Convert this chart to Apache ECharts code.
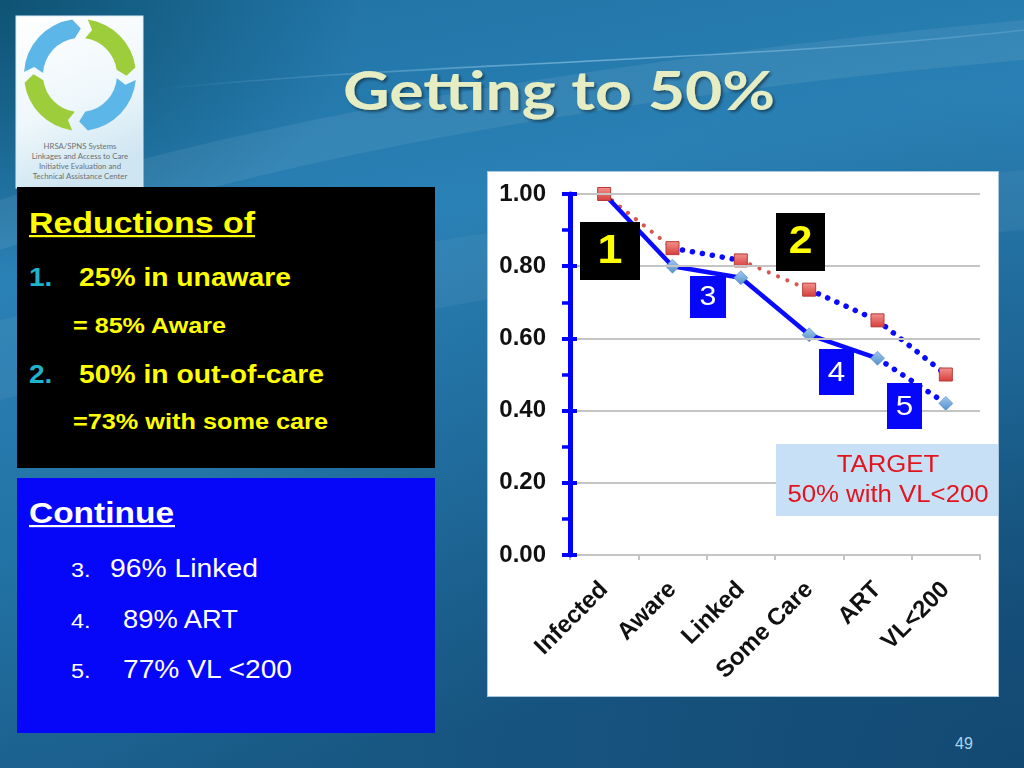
<!DOCTYPE html>
<html>
<head>
<meta charset="utf-8">
<script src="https://cdn.jsdelivr.net/npm/echarts@6/dist/echarts.min.js"></script>
<style>
html,body{margin:0;padding:0;width:1024px;height:768px;overflow:hidden;background:#1f6fa0}
#slide{position:absolute;left:0;top:0;width:1024px;height:768px}
#chart{position:absolute;left:0;top:0;width:1024px;height:768px}
</style>
</head>
<body>
<svg id="slide" width="1024" height="768" viewBox="0 0 1024 768" xmlns="http://www.w3.org/2000/svg">
  <defs>
    <linearGradient id="bg" x1="0" y1="0" x2="0.25" y2="1">
      <stop offset="0" stop-color="#1f71a3"/>
      <stop offset="0.35" stop-color="#2a81b5"/>
      <stop offset="0.7" stop-color="#2272a4"/>
      <stop offset="1" stop-color="#1a5d8a"/>
    </linearGradient>
    <radialGradient id="dark" cx="1" cy="1" r="0.9">
      <stop offset="0" stop-color="#0d3c62" stop-opacity="0.6"/>
      <stop offset="1" stop-color="#0d3c62" stop-opacity="0"/>
    </radialGradient>
    <radialGradient id="darkTL" cx="0" cy="0" r="0.35">
      <stop offset="0" stop-color="#08465f" stop-opacity="0.7"/>
      <stop offset="1" stop-color="#08465f" stop-opacity="0"/>
    </radialGradient>
    <linearGradient id="streak" x1="0" y1="0" x2="1" y2="0">
      <stop offset="0" stop-color="#bfe8ff" stop-opacity="0"/>
      <stop offset="0.5" stop-color="#bfe8ff" stop-opacity="0.45"/>
      <stop offset="1" stop-color="#bfe8ff" stop-opacity="0.15"/>
    </linearGradient>
    <linearGradient id="logoBg" x1="0" y1="0" x2="0.3" y2="1">
      <stop offset="0" stop-color="#ffffff"/>
      <stop offset="0.6" stop-color="#eef7fb"/>
      <stop offset="1" stop-color="#cfe6f2"/>
    </linearGradient>
    <filter id="shadow" x="-5%" y="-5%" width="110%" height="120%">
      <feDropShadow dx="2" dy="2" stdDeviation="1.5" flood-color="#000" flood-opacity="0.45"/>
    </filter>
  </defs>
  <rect x="0" y="0" width="1024" height="768" fill="url(#bg)"/>
  <rect x="0" y="0" width="1024" height="768" fill="url(#dark)"/>
  <rect x="0" y="0" width="1024" height="768" fill="url(#darkTL)"/>
  <!-- light streaks -->
  <path d="M0,200 C250,120 600,60 1024,20 L1024,60 C620,95 260,160 0,250 Z" fill="#ffffff" opacity="0.07"/>
  <path d="M150,90 C420,62 740,62 1024,30" stroke="url(#streak)" stroke-width="1.5" fill="none"/>
  <path d="M0,320 C300,260 650,200 1024,170 L1024,230 C650,260 300,330 0,400 Z" fill="#ffffff" opacity="0.05"/>

  <!-- logo -->
  <rect x="16" y="16" width="127" height="172" fill="url(#logoBg)" stroke="#d6ebf5" stroke-width="1"/>
  <g id="logoArrows"></g>
  <g font-family="Lato, 'Noto Sans', sans-serif" font-size="7.8" fill="#707070" text-anchor="middle">
    <text x="80" y="149">HRSA/SPNS Systems</text>
    <text x="80" y="159">Linkages and Access to Care</text>
    <text x="80" y="169">Initiative Evaluation and</text>
    <text x="80" y="179">Technical Assistance Center</text>
  </g>

  <!-- title -->
  <text x="343" y="110" font-family="Lato, 'Open Sans', sans-serif" font-weight="bold" font-size="54" fill="#e6edc2" textLength="432" lengthAdjust="spacingAndGlyphs" filter="url(#shadow)">Getting to 50%</text>

  <!-- black panel -->
  <rect x="17" y="187" width="418" height="281" fill="#000"/>
  <g font-family="'Liberation Sans', Arial, sans-serif" font-weight="bold">
    <text x="29" y="233" font-size="30" fill="#ffff00" textLength="226" lengthAdjust="spacingAndGlyphs">Reductions of</text>
    <rect x="29" y="235" width="226" height="2.2" fill="#ffff00"/>
    <text transform="translate(29,286) scale(1.12,1)" font-size="25" fill="#1fb4cc">1.</text>
    <text x="79" y="286" font-size="25" fill="#ffff00" textLength="212" lengthAdjust="spacingAndGlyphs">25% in unaware</text>
    <text x="73" y="333" font-size="22" fill="#ffff00" textLength="153" lengthAdjust="spacingAndGlyphs">= 85% Aware</text>
    <text transform="translate(29,383) scale(1.12,1)" font-size="25" fill="#1fb4cc">2.</text>
    <text x="79" y="383" font-size="25" fill="#ffff00" textLength="245" lengthAdjust="spacingAndGlyphs">50% in out-of-care</text>
    <text x="73" y="429" font-size="22" fill="#ffff00" textLength="255" lengthAdjust="spacingAndGlyphs">=73% with some care</text>
  </g>

  <!-- blue panel -->
  <rect x="17" y="478" width="418" height="255" fill="#0606f8"/>
  <g font-family="'Liberation Sans', Arial, sans-serif" fill="#ffffff">
    <text x="29" y="523" font-size="30" font-weight="bold" textLength="145" lengthAdjust="spacingAndGlyphs">Continue</text>
    <rect x="29" y="525" width="146" height="2.2" fill="#ffffff"/>
    <text transform="translate(71,577) scale(1.12,1)" font-size="21">3.</text>
    <text x="110" y="577" font-size="26" textLength="148" lengthAdjust="spacingAndGlyphs">96% Linked</text>
    <text transform="translate(71,628) scale(1.12,1)" font-size="21">4.</text>
    <text x="123" y="628" font-size="26" textLength="115" lengthAdjust="spacingAndGlyphs">89% ART</text>
    <text transform="translate(71,678) scale(1.12,1)" font-size="21">5.</text>
    <text x="123" y="678" font-size="26" textLength="169" lengthAdjust="spacingAndGlyphs">77% VL &lt;200</text>
  </g>

  <!-- chart panel -->
  <rect x="487.5" y="171.5" width="511" height="525" fill="#ffffff" stroke="#a9c6da" stroke-width="1"/>

  <!-- page number -->
  <text x="964" y="749" font-family="'Liberation Sans', Arial, sans-serif" font-size="16" fill="#a9d4ee" text-anchor="middle">49</text>
</svg>
<div id="chart"></div>
<script>
// ---------- data ----------
const categories = ['Infected', 'Aware', 'Linked', 'Some Care', 'ART', 'VL<200'];
const targetValues = [1.00, 0.85, 0.816, 0.735, 0.65, 0.50];
const currentValues = [1.00, 0.80, 0.768, 0.61, 0.545, 0.42];
// style of the segment that leaves each point (segment i joins point i and i+1)
const targetSegmentStyles = ['red', 'blue', 'red', 'blue', 'blue'];
const currentSegmentStyles = ['solid', 'solid', 'solid', 'solid', 'blue'];
const calloutLabels = ['1', '2', '3', '4', '5'];
const targetNoteLines = ['TARGET', '50% with VL<200'];

// ---------- logo arrows (decoration) ----------
(function () {
  const g = document.getElementById('logoArrows');
  const cx = 80, cy = 75, rO = 56, rI = 37, rM = (rO + rI) / 2;
  const P = (r, a) => { const t = a * Math.PI / 180; return (cx + r * Math.cos(t)).toFixed(2) + ',' + (cy + r * Math.sin(t)).toFixed(2); };
  const arrows = [[183, 262, '#5db6e8'], [278, 352, '#9dcd3b'], [5, 82, '#5db6e8'], [98, 172, '#9dcd3b']];
  arrows.forEach(([a0, a1, col]) => {
    const d = 'M' + P(rO, a0) + ' A' + rO + ',' + rO + ' 0 0 1 ' + P(rO, a1) +
      ' L' + P(rM, a1 + 9) + ' L' + P(rI, a1) +
      ' A' + rI + ',' + rI + ' 0 0 0 ' + P(rI, a0) +
      ' L' + P(rM, a0 + 7) + ' Z';
    const p = document.createElementNS('http://www.w3.org/2000/svg', 'path');
    p.setAttribute('d', d); p.setAttribute('fill', col);
    g.appendChild(p);
  });
})();

// ---------- chart ----------
const LINE = {
  solid: { color: '#0a0aff', width: 4.5, type: 'solid' },
  blue: { color: '#0a0aff', width: 5.5, type: [0.1, 10], cap: 'round' },
  red: { color: '#d9544f', width: 4, type: [0.1, 10], cap: 'round' }
};
function segmentSeries(values, styles, z) {
  return styles.map((s, i) => ({
    type: 'line',
    data: values.map((v, j) => (j === i || j === i + 1) ? v : null),
    showSymbol: false, symbol: 'none', connectNulls: false,
    lineStyle: LINE[s], z: z, silent: true
  }));
}
const series = [].concat(
  segmentSeries(targetValues, targetSegmentStyles, 2),
  segmentSeries(currentValues, currentSegmentStyles, 3),
  [{
    type: 'scatter', data: currentValues, symbol: 'diamond', symbolSize: 14, z: 4,
    itemStyle: { opacity: 1, color: new echarts.graphic.LinearGradient(0, 0, 0, 1, [{ offset: 0, color: '#9fc8ef' }, { offset: 1, color: '#5590cb' }]), borderColor: '#4f86bf', borderWidth: 0.6 }
  }, {
    type: 'scatter', data: targetValues, symbol: 'rect', symbolSize: 13, z: 5,
    itemStyle: { opacity: 1, color: new echarts.graphic.LinearGradient(0, 0, 0, 1, [{ offset: 0, color: '#f29490' }, { offset: 1, color: '#d63c38' }]), borderColor: '#b83a36', borderWidth: 1 }
  }]
);

const FONT = "'Liberation Sans', Arial, sans-serif";
function box(x, y, w, h, fill, label, color, size, weight) {
  return [
    { type: 'rect', shape: { x: x, y: y, width: w, height: h }, style: { fill: fill }, z: 100 },
    { type: 'text', x: x + w / 2, y: y + h / 2 + 1, scaleX: 1.12, z: 101,
      style: { text: label, fill: color, font: weight + ' ' + size + 'px ' + FONT, align: 'center', verticalAlign: 'middle' } }
  ];
}
const graphic = [].concat(
  box(580, 222, 60, 58, '#000000', calloutLabels[0], '#ffff00', 40, 'bold'),
  box(776, 213, 49, 58, '#000000', calloutLabels[1], '#ffff00', 38, 'bold'),
  box(690, 276, 36, 42, '#0606f8', calloutLabels[2], '#ffffff', 27, 'normal'),
  box(819, 349, 35, 46, '#0606f8', calloutLabels[3], '#ffffff', 28, 'normal'),
  box(887, 383, 35, 46, '#0606f8', calloutLabels[4], '#ffffff', 28, 'normal'),
  [
    { type: 'rect', shape: { x: 776, y: 444, width: 222, height: 72 }, style: { fill: '#c7e0f6' }, z: 100 },
    { type: 'text', x: 888, y: 466, scaleX: 1.12, z: 101, style: { text: targetNoteLines[0], fill: '#e3141d', font: '23px ' + FONT, align: 'center', verticalAlign: 'middle' } },
    { type: 'text', x: 888, y: 496, scaleX: 1.12, z: 101, style: { text: targetNoteLines[1], fill: '#e3141d', font: '23px ' + FONT, align: 'center', verticalAlign: 'middle' } }
  ]
);

const chart = echarts.init(document.getElementById('chart'), null, { renderer: 'canvas' });
chart.setOption({
  backgroundColor: 'transparent',
  animation: false,
  grid: { left: 570, top: 194, width: 410, height: 361, containLabel: false },
  xAxis: {
    type: 'category', data: categories, boundaryGap: true, z: 1,
    axisLine: { show: true, lineStyle: { color: '#c4c4c4', width: 2 } },
    axisTick: { show: true, length: 5, lineStyle: { color: '#c4c4c4', width: 2 } },
    axisLabel: { rotate: 45, interval: 0, margin: 31, fontSize: 24, fontWeight: 'bold', color: '#111', fontFamily: FONT },
    splitLine: { show: false }
  },
  yAxis: [{
    type: 'value', min: 0, max: 1, interval: 0.2, z: 6,
    axisLine: { show: true, lineStyle: { color: '#0000ff', width: 5 } },
    axisTick: { show: true, length: 8, lineStyle: { color: '#0000ff', width: 4 } },
    minorTick: { show: true, splitNumber: 2, length: 8, lineStyle: { color: '#0000ff', width: 3.5 } },
    axisLabel: { formatter: v => v.toFixed(2), margin: 24, fontSize: 24, fontWeight: 'bold', color: '#111', fontFamily: FONT },
    splitLine: { show: true, lineStyle: { color: '#c4c4c4', width: 2 } }
  }, {
    type: 'value', min: 0, max: 1, interval: 0.2, position: 'left', z: 6,
    axisLine: { show: false },
    axisTick: { show: true, inside: true, length: 7, lineStyle: { color: '#0000ff', width: 4 } },
    axisLabel: { show: false },
    splitLine: { show: false }
  }],
  series: series,
  graphic: graphic
});
</script>
</body>
</html>
